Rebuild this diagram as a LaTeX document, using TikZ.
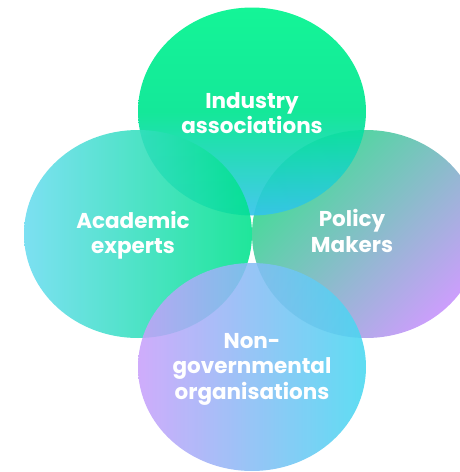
\documentclass[tikz,border=0pt]{standalone}
\usepackage{fontspec}
\setmainfont{Poppins}
\usetikzlibrary{shapes.geometric}
\definecolor{indTop}{HTML}{00F48E}
\definecolor{indMid}{HTML}{00E690}
\definecolor{indBot}{HTML}{34C4EA}
\definecolor{acaL}{HTML}{6ADCF0}
\definecolor{acaR}{HTML}{00E28C}
\definecolor{polA}{HTML}{40DE94}
\definecolor{polB}{HTML}{CC9EFC}
\definecolor{ngoL}{HTML}{C8A0FA}
\definecolor{ngoR}{HTML}{46D8F0}
\tikzset{
  blob/.style={ellipse, minimum width=228pt, minimum height=208pt, inner sep=0pt, draw=none},
  lbl/.style={text=white, font=\bfseries\fontsize{21.5}{25.5}\selectfont, align=center},
}
\begin{document}
\begin{tikzpicture}[x=1pt,y=-1pt]
\useasboundingbox (0,0) rectangle (460,472);
\begin{scope}
\clip (0,0) rectangle (460,472);
\node[blob, top color=polA, bottom color=polB, shading angle=45] (pol) at (366,234) {};
\node[blob, top color=indTop, bottom color=indBot, middle color=indMid, fill opacity=0.92] (ind) at (252,111.5) {};
\node[blob, left color=acaL, right color=acaR, fill opacity=0.88] (aca) at (138,234) {};
\node[blob, left color=ngoL, right color=ngoR, fill opacity=0.87] (ngo) at (252,367) {};
\end{scope}
\node[lbl] (tind) at (252,113) {Industry\\associations};
\node[lbl] (taca) at (133,235) {Academic\\experts};
\node[lbl] (tpol) at (352,231) {Policy\\Makers};
\node[lbl] (tngo) at (252,369) {Non-\\governmental\\organisations};
\end{tikzpicture}
\end{document}
